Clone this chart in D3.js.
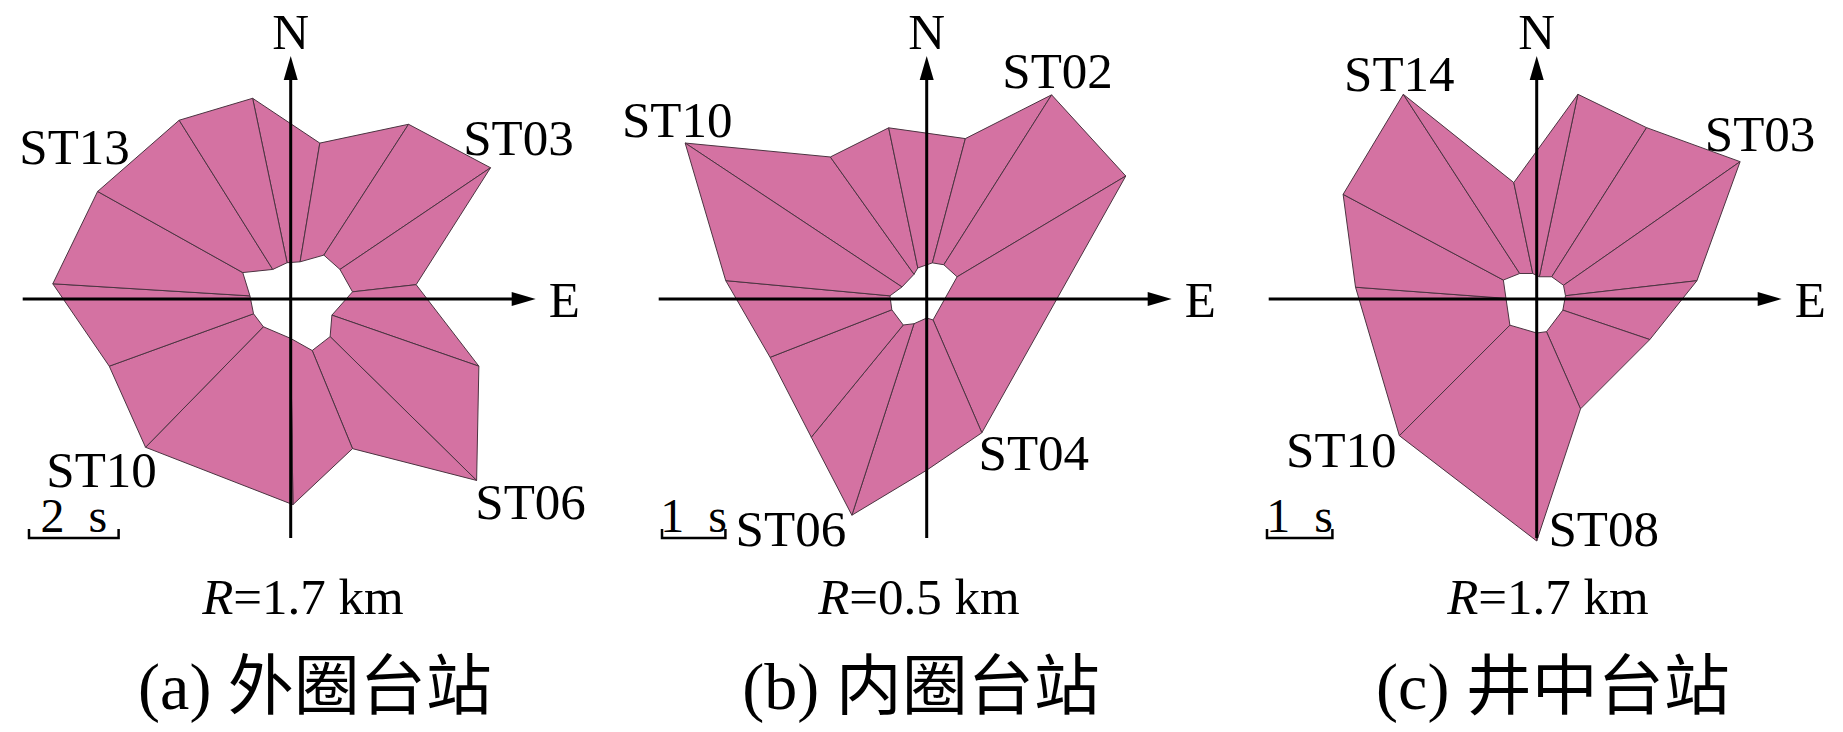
<!DOCTYPE html>
<html>
<head>
<meta charset="utf-8">
<script src="https://cdn.jsdelivr.net/npm/d3@7"></script>
<style>
  body { margin: 0; background: #fff; }
  svg { display: block; }
  .sector { fill: #d472a2; stroke: #4b3441; stroke-width: 1; stroke-linejoin: round; }
  .axis-line { stroke: #000; stroke-width: 3; }
  text { font-family: 'Liberation Serif', 'Times New Roman', 'Noto Sans CJK SC', serif; fill: #000; }
</style>
</head>
<body>
<div id="chart"></div>
<script>
// delay-time roses, vertices as [east, north] in seconds, clockwise from N
const outerA = [[-0.85, 4.48], [0.65, 3.48], [2.63, 3.90], [4.46, 2.93], [2.80, 0.32], [4.20, -1.50], [4.15, -4.05],
  [1.38, -3.34], [0.05, -4.59], [-3.24, -3.31], [-4.05, -1.50], [-5.31, 0.34], [-4.31, 2.40], [-2.49, 3.99]];
const innerA = [[-0.08, 0.81], [0.21, 0.83], [0.74, 0.98], [1.10, 0.66], [1.38, 0.16], [0.92, -0.36], [0.88, -0.84],
  [0.48, -1.15], [0.00, -0.88], [-0.61, -0.62], [-0.83, -0.33], [-0.91, 0.07], [-1.07, 0.59], [-0.40, 0.66]];

const outerB = [[-3.81, 2.46], [-1.52, 2.24], [-0.60, 2.70], [0.61, 2.53], [1.97, 3.22], [3.14, 1.94],
  [0.87, -2.11], [0, -2.70], [-1.18, -3.41], [-1.82, -2.18], [-2.47, -0.92], [-3.17, 0.29]];
const innerB = [[-0.39, 0.19], [-0.20, 0.39], [-0.14, 0.49], [0.09, 0.57], [0.27, 0.54], [0.48, 0.35],
  [0.10, -0.33], [0, -0.30], [-0.20, -0.39], [-0.37, -0.41], [-0.55, -0.17], [-0.58, 0.05]];

const outerC = [[0.63, 3.13], [1.68, 2.62], [3.11, 2.10], [2.45, 0.28], [1.73, -0.62], [0.67, -1.68],
  [0, -3.70], [-2.10, -2.09], [-2.77, 0.18], [-2.96, 1.60], [-2.04, 3.13], [-0.35, 1.78]];
const innerC = [[0.04, 0.34], [0.23, 0.34], [0.41, 0.21], [0.44, 0.05], [0.40, -0.17], [0.15, -0.50],
  [0, -0.52], [-0.41, -0.40], [-0.47, 0.01], [-0.51, 0.29], [-0.26, 0.39], [-0.06, 0.39]];

const stationsA = ['ST13', 'ST03', 'ST10', 'ST06'];
const stationsB = ['ST10', 'ST02', 'ST04', 'ST06'];
const stationsC = ['ST14', 'ST03', 'ST10', 'ST08'];
const barSeconds = [2, 1, 1];
const radii = ['1.7', '0.5', '1.7'];
const titles = ['(a) 外圈台站', '(b) 内圈台站', '(c) 井中台站'];

const width = 1843, height = 732;
const svg = d3.select('#chart').append('svg').attr('width', width).attr('height', height);

// layout: centre, pixels per second, label anchors (vertex index + offset)
const panels = [
  {outer: outerA, inner: innerA, names: stationsA, cx: 290.7, cy: 299, k: 44.8, barX: 29, textX: 303, titleX: 315,
    anchors: [[12, -23, -27], [3, 28, -13], [9, -44, 40], [6, 54, 39]]},
  {outer: outerB, inner: innerB, names: stationsB, cx: 926.7, cy: 299, k: 63.4, barX: 662, textX: 919, titleX: 921,
    anchors: [[0, -8, -6], [4, 6, -7], [6, 52, 37], [8, -61, 31]]},
  {outer: outerC, inner: innerC, names: stationsC, cx: 1536.7, cy: 299, k: 65.4, barX: 1267, textX: 1548, titleX: 1553,
    anchors: [[10, -4, -3], [2, 20, -11], [7, -58, 31], [6, 67, 5]]}
];

const arrowLen = 24, arrowHalf = 7;
const labelSize = 51;

panels.forEach((p, pi) => {
  const x = d3.scaleLinear().domain([-1, 1]).range([p.cx - p.k, p.cx + p.k]);
  const y = d3.scaleLinear().domain([-1, 1]).range([p.cy + p.k, p.cy - p.k]);
  const g = svg.append('g').attr('class', 'panel');
  const n = p.outer.length;

  const sectors = d3.range(n).map(i => [p.outer[i], p.outer[(i + 1) % n], p.inner[(i + 1) % n], p.inner[i]]);
  const line = d3.line().x(d => x(d[0])).y(d => y(d[1])).curve(d3.curveLinearClosed);
  g.selectAll('.sector').data(sectors).enter().append('path').attr('class', 'sector').attr('d', line);

  // axes
  const x0 = x(0), y0 = y(0);
  const left = x0 - 268, right = x0 + 245, top = y0 - 243, bottom = y0 + 239;
  g.append('line').attr('class', 'axis-line').attr('x1', left).attr('x2', right - arrowLen + 2).attr('y1', y0).attr('y2', y0);
  g.append('line').attr('class', 'axis-line').attr('x1', x0).attr('x2', x0).attr('y1', bottom).attr('y2', top + arrowLen - 2);
  g.append('path').attr('d', `M${right},${y0}L${right - arrowLen},${y0 - arrowHalf}L${right - arrowLen},${y0 + arrowHalf}Z`).attr('fill', '#000');
  g.append('path').attr('d', `M${x0},${top}L${x0 - arrowHalf},${top + arrowLen}L${x0 + arrowHalf},${top + arrowLen}Z`).attr('fill', '#000');
  g.append('text').attr('x', x0).attr('y', top - 7).attr('text-anchor', 'middle').attr('font-size', labelSize).text('N');
  g.append('text').attr('x', right + 13).attr('y', y0 + 18).attr('text-anchor', 'start').attr('font-size', labelSize).text('E');

  // station labels
  p.anchors.forEach((a, j) => {
    const v = p.outer[a[0]];
    g.append('text').attr('x', x(v[0]) + a[1]).attr('y', y(v[1]) + a[2])
      .attr('text-anchor', 'middle').attr('font-size', labelSize).text(p.names[j]);
  });

  // scale bar
  const barLen = x(barSeconds[pi]) - x(0);
  const by = 538;
  g.append('path').attr('d', `M${p.barX},${by - 9}V${by}H${p.barX + barLen}V${by - 9}`)
    .attr('fill', 'none').attr('stroke', '#000').attr('stroke-width', 2.5);
  g.append('text').attr('x', p.barX + barLen / 2).attr('y', by - 6).attr('text-anchor', 'middle')
    .attr('font-size', 48).attr('xml:space', 'preserve').text(`${barSeconds[pi]}  s`);

  // radius and caption
  const rt = g.append('text').attr('x', p.textX).attr('y', 614).attr('text-anchor', 'middle').attr('font-size', labelSize);
  rt.append('tspan').attr('font-style', 'italic').text('R');
  rt.append('tspan').text(`=${radii[pi]} km`);
  g.append('text').attr('x', p.titleX).attr('y', 709).attr('text-anchor', 'middle').attr('font-size', 66).text(titles[pi]);
});
</script>
</body>
</html>
